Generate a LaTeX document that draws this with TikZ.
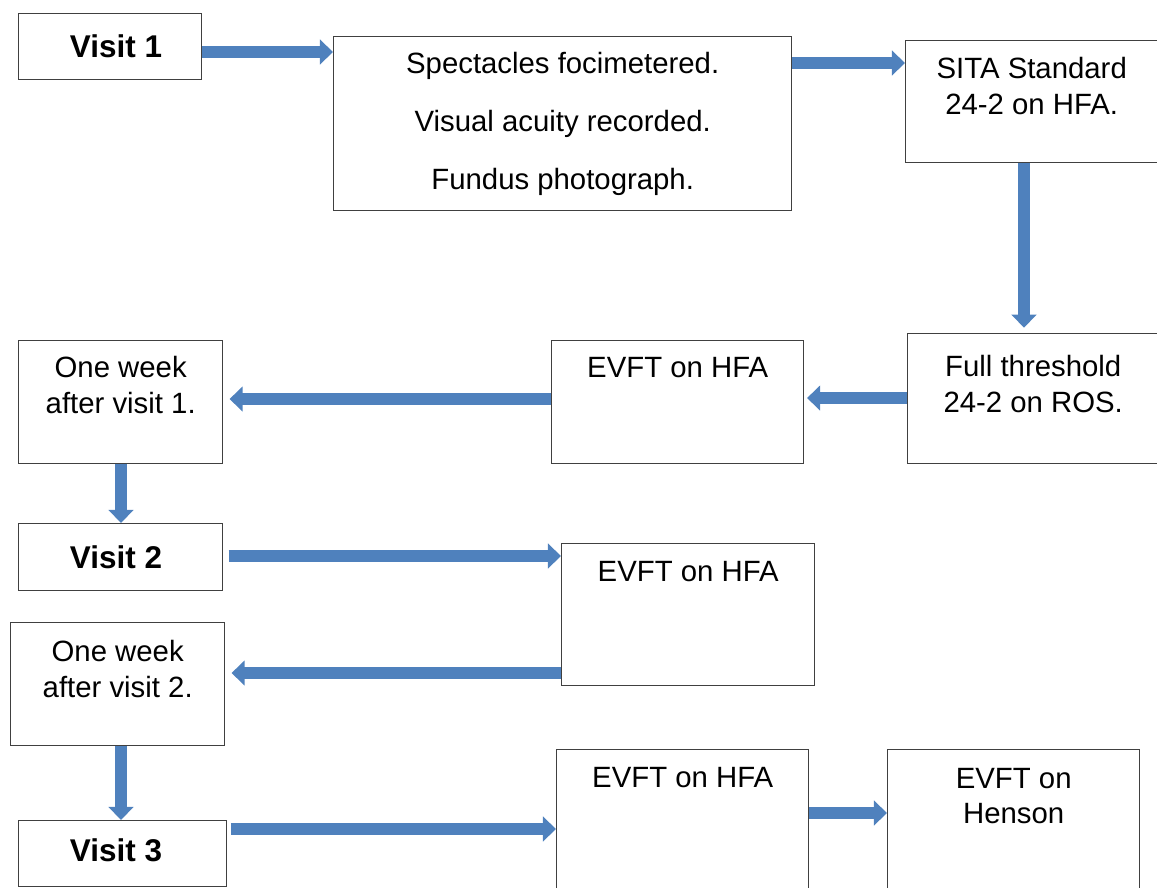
\documentclass[tikz,border=0pt]{standalone}
\usepackage{fontspec}
\setmainfont{Liberation Sans}
\usetikzlibrary{positioning,calc,arrows.meta}
\definecolor{flowblue}{HTML}{4F81BD}

\begin{document}
\begin{tikzpicture}[x=0.02cm, y=-0.02cm,
				box/.style={
				% The shape:
				rectangle, anchor=north west,
				% The border:
				draw=black!75, line width=0.8pt,
				% The filling:
				fill=white, inner sep=0pt,
				% Font
				font=\fontsize{16.7}{20.4}\selectfont
				},
				size/.style 2 args={
				minimum width=#1*0.02cm,
				minimum height=#2*0.02cm
				},
				bold/.style={
				inner sep=0pt,
				font=\fontsize{17.9}{21}\selectfont\bfseries
				},
				words/.style={
				align=center, inner sep=0pt,
				font=\fontsize{16.7}{20.4}\selectfont
				},
				flow/.style={
				% The line:
				draw=flowblue, line width=6.6pt,
				% The head:
				-{Triangle[width=14pt,length=7.5pt]}
				}
				]
    \useasboundingbox (0,0) rectangle (1157,887);

    % first row
    \node [box, size={183}{66}] (visit1) at (18,13) {};
    \node [bold] (visit1text) at (visit1.center -| 116,0) {Visit 1};
    \node [box, size={458}{174}, align=center] (spec) at (333,36)
        {Spectacles focimetered.\\[12.5pt] Visual acuity recorded.\\[12.5pt] Fundus photograph.};
    \node [box, size={252}{122}] (sita) at (905,40) {};
    \node [words, below=9.5pt of sita.north] (sitatext) {SITA Standard\\24-2 on HFA.};

    % second row
    \node [box, size={251}{130}] (full) at (907,333) {};
    \node [words, below=12.5pt of full.north] (fulltext) {Full threshold\\24-2 on ROS.};
    \node [box, size={252}{123}] (evft1) at (551,340) {};
    \node [words, below=9.5pt of evft1.north] (evft1text) {EVFT on HFA};
    \node [box, size={204}{123}] (week1) at (18,340) {};
    \node [words, below=9pt of week1.north] (week1text) {One week\\after visit 1.};

    % visit 2
    \node [box, size={204}{67}] (visit2) at (18,523) {};
    \node [bold] (visit2text) at (visit2.center -| 116,0) {Visit 2};
    \node [box, size={253}{142}] (evft2) at (561,543) {};
    \node [words, below=10pt of evft2.north] (evft2text) {EVFT on HFA};
    \node [box, size={214}{123}] (week2) at (10,622) {};
    \node [words, below=10pt of week2.north] (week2text) {One week\\after visit 2.};

    % visit 3
    \node [box, size={208}{66}] (visit3) at (18,820) {};
    \node [bold] (visit3text) at ($(visit3.center -| 116,0)+(0,-3)$) {Visit 3};
    \node [box, size={252}{145}] (evft3) at (556,749) {};
    \node [words, below=10pt of evft3.north] (evft3text) {EVFT on HFA};
    \node [box, size={252}{145}] (henson) at (887,749) {};
    \node [words, below=10.5pt of henson.north] (hensontext) {EVFT on\\Henson};

    % arrows
    \draw [flow] (visit1.east |- 0,52) -- (spec.west |- 0,52);
    \draw [flow] (spec.east |- 0,63) -- (sita.west |- 0,63);
    \draw [flow, shorten >=3pt] (sita.south -| 1024,0) -- (full.north -| 1024,0);
    \draw [flow, shorten >=1.5pt] (full.west |- 0,398) -- (evft1.east |- 0,398);
    \draw [flow, shorten >=3.5pt] (evft1.west |- 0,399) -- (week1.east |- 0,399);
    \draw [flow] (week1.south -| 121,0) -- (visit2.north -| 121,0);
    \draw [flow, shorten <=3pt] (visit2.east |- 0,556) -- (evft2.west |- 0,556);
    \draw [flow, shorten >=3.5pt] (evft2.west |- 0,673) -- (week2.east |- 0,673);
    \draw [flow] (week2.south -| 121,0) -- (visit3.north -| 121,0);
    \draw [flow, shorten <=2pt] (visit3.east |- 0,829) -- (evft3.west |- 0,829);
    \draw [flow] (evft3.east |- 0,813) -- (henson.west |- 0,813);
\end{tikzpicture}
\end{document}
